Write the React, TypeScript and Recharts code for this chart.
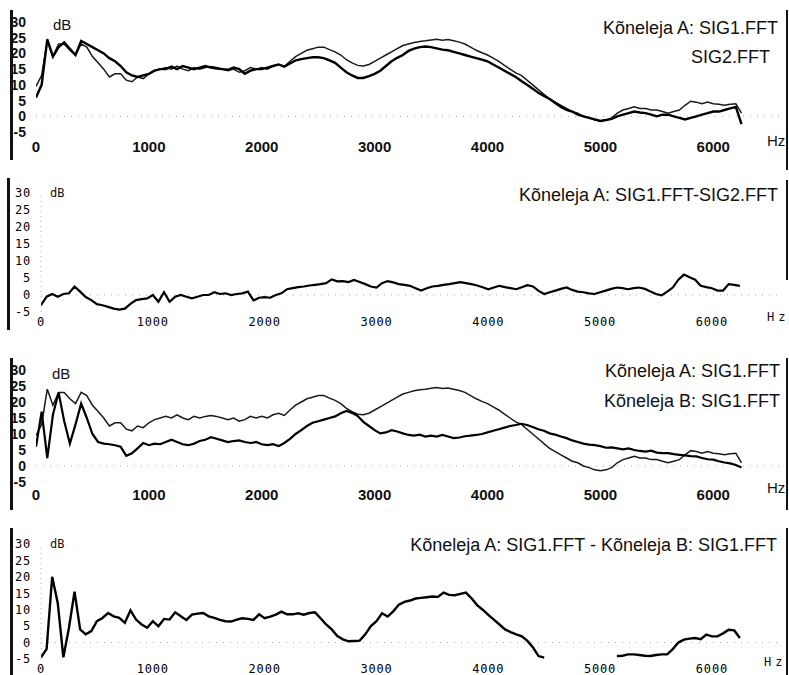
import React from 'react';
import { LineChart, Line, XAxis, YAxis, ReferenceLine } from 'recharts';

// frequency grid, Hz (50 Hz steps)
const FREQ = [
  0, 50, 100, 150, 200, 250, 300, 350, 400, 450,
  500, 550, 600, 650, 700, 750, 800, 850, 900, 950,
  1000, 1050, 1100, 1150, 1200, 1250, 1300, 1350, 1400, 1450,
  1500, 1550, 1600, 1650, 1700, 1750, 1800, 1850, 1900, 1950,
  2000, 2050, 2100, 2150, 2200, 2250, 2300, 2350, 2400, 2450,
  2500, 2550, 2600, 2650, 2700, 2750, 2800, 2850, 2900, 2950,
  3000, 3050, 3100, 3150, 3200, 3250, 3300, 3350, 3400, 3450,
  3500, 3550, 3600, 3650, 3700, 3750, 3800, 3850, 3900, 3950,
  4000, 4050, 4100, 4150, 4200, 4250, 4300, 4350, 4400, 4450,
  4500, 4550, 4600, 4650, 4700, 4750, 4800, 4850, 4900, 4950,
  5000, 5050, 5100, 5150, 5200, 5250, 5300, 5350, 5400, 5450,
  5500, 5550, 5600, 5650, 5700, 5750, 5800, 5850, 5900, 5950,
  6000, 6050, 6100, 6150, 6200, 6250,
];

const X_TICKS = [0, 1000, 2000, 3000, 4000, 5000, 6000];
const Y_TICKS = [-5, 0, 5, 10, 15, 20, 25, 30];

// Kõneleja A: SIG1.FFT (thin line)
const A_SIG1 = [
  9.5, 13, 24, 19, 23, 23, 21, 19.5, 23, 22,
  19, 17, 15, 12.5, 13.5, 13.5, 11.5, 11, 12.5, 12,
  13.5, 14.5, 15, 15.5, 15, 16, 15, 14.5, 15.5, 15,
  15.5, 15.8, 15.5, 15, 14.5, 15, 14, 14.5, 15.5, 15,
  15.5, 15, 16, 16.5, 15.8, 17.5, 19, 20, 21, 21.5,
  22, 22, 21.2, 20.5, 19.5, 18, 17, 16.2, 16, 16.5,
  17.5, 18.5, 19.5, 20.5, 21.5, 22.5, 23, 23.5, 23.8, 24,
  24.3, 24.5, 24.2, 24.4, 24, 23.6, 23, 22, 21, 20.2,
  19.5, 18.5, 17.5, 16.2, 15, 13.8, 13, 11.5, 10, 8.5,
  7, 5.5, 4.5, 3.5, 2.5, 1.5, 1, 0, -0.5, -1.2,
  -1.5, -1.2, -0.5, 1, 2, 2.5, 3, 2.5, 2.5, 2,
  2, 1.5, 1, 1.5, 2, 3.5, 4.8, 4.5, 4, 4.5,
  4, 3.8, 3.5, 3.8, 4, 1,
];

// Kõneleja A: SIG2.FFT (thick line)
const A_SIG2 = [
  6, 10, 24.5, 19, 22, 23.5, 21.5, 19.5, 24, 23,
  22, 21, 20, 18.5, 17.5, 16, 14, 13, 12.5, 13,
  13.5, 14.5, 15, 15, 15.8, 15, 16, 15.5, 15, 15.5,
  16, 15.5, 15.2, 15, 14.8, 15.5, 15, 13.5, 14.5, 15,
  15, 15.5, 16, 16.5, 15.8, 16.8, 17.8, 18.2, 18.5, 18.8,
  18.8, 18.5, 17.8, 17, 15.5, 14, 13, 12.2, 12.2, 12.8,
  13.5, 14.5, 16, 17.5, 18.6, 19.5, 20.8, 21.5, 22, 22.2,
  22, 21.6, 21.2, 21, 20.5, 20, 19.5, 19, 18.5, 18,
  17.5, 16.5, 15.5, 14.5, 13.5, 12.5, 11.2, 10, 8.8, 7.5,
  6.5, 5.5, 4.2, 3, 2, 1.5, 0.5, 0, -0.5, -1,
  -1.5, -1.2, -0.8, 0, 0.5, 1, 1.5, 1.2, 1, 0.5,
  0, 0.5, 0.5, 0, -0.5, -1, -0.5, 0, 0.5, 1,
  1.5, 1.5, 2, 2.5, 3, -2.5,
];

// Kõneleja A: SIG1.FFT - SIG2.FFT
const A_DIFF = [
  -3, -0.5, 0.3, -0.5, 0.3, 0.5, 2.5, 1, -0.6, -1.5,
  -2.7, -3, -3.5, -4, -4.3, -4, -2.6, -1.5, -1.2, -1,
  0, -2, 0.8, -2, -0.5, 0, -0.5, -1, -0.5, 0,
  0, 0.8, 0.3, 0.5, 0, 0.3, 0.5, 1, -1.6, -0.8,
  -0.6, -0.8, 0, 0.5, 1.7, 2, 2.3, 2.5, 2.8, 3,
  3.2, 3.5, 4.6, 4, 4.1, 3.8, 4.4, 3.8, 3.2, 2.5,
  2.2, 3.5, 4.1, 3.7, 3.2, 3, 2.7, 2, 1.3, 2,
  2.5, 2.7, 3, 3.2, 3.5, 3.8, 3.5, 3.2, 2.8, 2.3,
  1.7, 2.2, 2.7, 2.3, 2, 1.7, 2.3, 2.9, 2.5, 1.2,
  0.3, 0.8, 1.3, 1.8, 2.2, 1.5, 1, 0.8, 0.5, 0.3,
  0.8, 1.3, 1.8, 2.2, 2, 1.7, 2, 2.2, 1.8, 1,
  0.3, -0.1, 1, 2.2, 4.5, 6, 5.2, 4.5, 2.7, 2.3,
  2, 1.3, 1.3, 3.2, 3, 2.7,
];

// Kõneleja B: SIG1.FFT
const B_SIG1 = [
  6, 17, 2.5, 16, 23, 14, 7, 13, 19.5, 15,
  10, 7.5, 7, 6.8, 6.5, 6, 3.2, 4, 5.5, 7.2,
  6.5, 7, 6.8, 7.5, 8.2, 7.5, 6.8, 6.5, 7, 7.8,
  8.2, 9, 8.5, 8, 7.5, 7.8, 8, 7.5, 7.2, 7.5,
  6.8, 6.5, 6.8, 6.2, 7.2, 8.5, 10, 11.2, 12.5, 13.5,
  14, 14.5, 15, 15.5, 16.5, 17.2, 16.6, 15.6, 13.8, 12.5,
  11.2, 10.2, 10.5, 11.2, 10.8, 10.2, 9.7, 9.5, 9.8, 9.2,
  9.5, 9.2, 9.7, 9.2, 8.7, 8.9, 9.3, 9.5, 9.7, 10,
  10.5, 11, 11.5, 12, 12.5, 12.8, 13.2, 12.8, 12.2, 11.5,
  11, 10.2, 9.8, 9.2, 8.7, 8, 7.5, 7, 6.7, 6.5,
  6.2, 5.7, 5.8, 5.5, 5.2, 5.5, 5, 4.7, 4.5, 4.8,
  4.2, 4, 4, 3.7, 3.5, 3.3, 3.1, 3, 2.5, 2.1,
  2, 1.5, 1.1, 0.8, 0.3, -0.5,
];

// Kõneleja A: SIG1.FFT - Kõneleja B: SIG1.FFT (gap = below the axis)
const AB_DIFF = [
  -4.5, -2, 20, 12, -4.5, 4.5, 15.5, 4, 2.5, 3.5,
  6.5, 7.5, 9, 8, 7.5, 6, 9.8, 7, 5.5, 4.5,
  6.5, 5, 7.2, 7, 9.2, 8, 6.9, 8.5, 8.8, 9,
  8, 7.5, 6.9, 6.5, 6.4, 7, 7.4, 7.2, 6.9, 8.6,
  7.4, 7.9, 8.5, 9.4, 8.6, 8.6, 8.9, 8.5, 9, 9.2,
  7.4, 5.5, 4, 2, 1, 0.4, 0.5, 0.6, 2.5, 5,
  6.5, 8.9, 7.9, 9.5, 11.5, 12.4, 12.8, 13.4, 13.6, 13.8,
  14, 13.9, 15.2, 14.5, 14.4, 14.8, 15.2, 13.5, 11.4, 10,
  8.4, 7, 5.5, 4, 3.2, 2.5, 1.9, 0.5, -1.5, -4.1,
  -4.6, null, null, null, null, null, null, null, null, null,
  null, null, null, -4.1, -4, -3.6, -3.6, -3.8, -4, -4.1,
  -3.8, -3.6, -3.6, -2, 0, 0.9, 1.2, 1.4, 1, 2.4,
  1.9, 1.9, 2.8, 3.9, 3.7, 1.4,
];

const rows = FREQ.map((hz, i) => ({
  hz,
  sig1: A_SIG1[i],
  sig2: A_SIG2[i],
  diffA: A_DIFF[i],
  b: B_SIG1[i],
  diffAB: AB_DIFF[i],
}));

const SANS = 'Arial, "Liberation Sans", sans-serif';
const MONO = '"DejaVu Sans Mono", "Liberation Mono", monospace';

const sansX = { fontFamily: SANS, fontSize: 15, fontWeight: 700, fill: '#111' };
const sansY = { fontFamily: SANS, fontSize: 14, fontWeight: 700, fill: '#111' };
const monoT = { fontFamily: MONO, fontSize: 12, fill: '#000', letterSpacing: 0.8 };

function Txt({ x, right, y, size, mono, spacing, children }: any) {
  return (
    <div
      style={{
        position: 'absolute',
        left: x,
        right,
        top: y - size / 2,
        fontSize: size,
        lineHeight: 1,
        fontFamily: mono ? MONO : SANS,
        letterSpacing: spacing || 0,
        color: '#111',
        whiteSpace: 'nowrap',
      }}
    >
      {children}
    </div>
  );
}

function Bar({ x, y, h, w }: any) {
  return <div style={{ position: 'absolute', left: x, top: y, width: w, height: h, background: '#111' }} />;
}

function Panel({ top, height, margin, yWidth, xAxisH, xTickMargin, yTickMargin, xTick, yTick, vDots, lines }: any) {
  return (
    <div style={{ position: 'absolute', left: 0, top, width: 789, height }}>
      <LineChart width={789} height={height} data={rows} margin={margin}>
        <XAxis
          dataKey="hz"
          type="number"
          domain={[0, 6600]}
          ticks={X_TICKS}
          interval={0}
          axisLine={false}
          tickLine={false}
          tickSize={0}
          tickMargin={xTickMargin}
          height={xAxisH}
          tick={xTick}
          allowDataOverflow
        />
        <YAxis
          type="number"
          domain={[-5, 30]}
          ticks={Y_TICKS}
          interval={0}
          axisLine={false}
          tickLine={false}
          tickSize={0}
          tickMargin={yTickMargin}
          width={yWidth}
          tick={yTick}
          allowDataOverflow
        />
        <ReferenceLine y={0} stroke="#aaa" strokeDasharray="1 6" />
        {vDots && <ReferenceLine x={0} stroke="#aaa" strokeDasharray="1 4" />}
        {lines.map((l: any) => (
          <Line
            key={l.key}
            type="linear"
            dataKey={l.key}
            stroke={l.color}
            strokeWidth={l.width}
            dot={false}
            activeDot={false}
            isAnimationActive={false}
          />
        ))}
      </LineChart>
    </div>
  );
}

export default function App() {
  return (
    <div style={{ position: 'absolute', left: 0, top: 0, width: 789, height: 675, background: '#fff', overflow: 'hidden' }}>
      {/* 1: SIG1 vs SIG2 */}
      <Panel
        top={0} height={168}
        margin={{ top: 22, right: 8, bottom: 6, left: 0 }}
        yWidth={36} xAxisH={30} xTickMargin={9} yTickMargin={10}
        xTick={sansX} yTick={sansY}
        lines={[
          { key: 'sig1', color: '#1a1a1a', width: 1.5 },
          { key: 'sig2', color: '#000', width: 2.4 },
        ]}
      />
      {/* 2: difference SIG1-SIG2 */}
      <Panel
        top={168} height={167}
        margin={{ top: 25, right: 10, bottom: 3, left: 0 }}
        yWidth={41} xAxisH={20} xTickMargin={5} yTickMargin={10}
        xTick={monoT} yTick={monoT} vDots
        lines={[{ key: 'diffA', color: '#000', width: 2.2 }]}
      />
      {/* 3: speaker A vs speaker B */}
      <Panel
        top={335} height={175}
        margin={{ top: 35, right: 8, bottom: 4, left: 0 }}
        yWidth={36} xAxisH={24} xTickMargin={7} yTickMargin={10}
        xTick={sansX} yTick={sansY}
        lines={[
          { key: 'sig1', color: '#1a1a1a', width: 1.5 },
          { key: 'b', color: '#000', width: 2.2 },
        ]}
      />
      {/* 4: difference A-B */}
      <Panel
        top={510} height={165}
        margin={{ top: 34, right: 10, bottom: 2, left: 0 }}
        yWidth={41} xAxisH={14} xTickMargin={5} yTickMargin={10}
        xTick={monoT} yTick={monoT} vDots
        lines={[{ key: 'diffAB', color: '#000', width: 2.4 }]}
      />

      <Txt right={11} y={28} size={18}>Kõneleja A: SIG1.FFT</Txt>
      <Txt right={19} y={57} size={18}>SIG2.FFT</Txt>
      <Txt right={11} y={195} size={18}>Kõneleja A: SIG1.FFT-SIG2.FFT</Txt>
      <Txt right={9} y={371} size={18}>Kõneleja A: SIG1.FFT</Txt>
      <Txt right={9} y={401} size={18}>Kõneleja B: SIG1.FFT</Txt>
      <Txt right={12} y={545} size={18}>Kõneleja A: SIG1.FFT - Kõneleja B: SIG1.FFT</Txt>

      <Txt x={53} y={24} size={15}>dB</Txt>
      <Txt x={50} y={193} size={12} mono>dB</Txt>
      <Txt x={52} y={373} size={15}>dB</Txt>
      <Txt x={50} y={544} size={12} mono>dB</Txt>

      <Txt x={767} y={140} size={15}>Hz</Txt>
      <Txt x={767} y={317} size={12} mono spacing={4}>Hz</Txt>
      <Txt x={767} y={487} size={15}>Hz</Txt>
      <Txt x={764} y={662} size={12} mono spacing={4}>Hz</Txt>

      <Bar x={10} y={10} w={2.5} h={150} />
      <Bar x={7} y={178} w={2.5} h={152} />
      <Bar x={10} y={358} w={2.5} h={152} />
      <Bar x={10} y={528} w={2.5} h={147} />
      <Bar x={786} y={10} w={1.5} h={160} />
      <Bar x={786} y={180} w={1.5} h={100} />
      <Bar x={786} y={358} w={1.5} h={152} />
      <Bar x={786} y={528} w={1.5} h={147} />
    </div>
  );
}
